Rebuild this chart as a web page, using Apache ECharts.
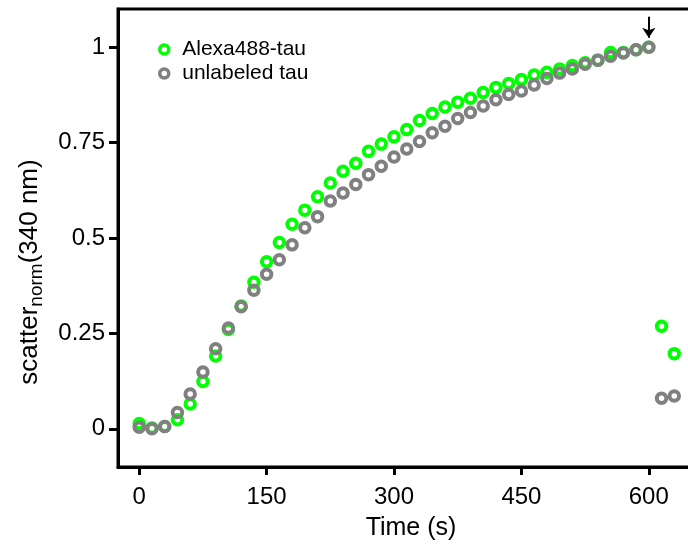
<!DOCTYPE html>
<html>
<head>
<meta charset="utf-8">
<script src="https://cdn.jsdelivr.net/npm/echarts@6/dist/echarts.min.js"></script>
<style>html,body{margin:0;padding:0;background:#fff;overflow:hidden;width:688px;height:546px;}#c{width:704px;height:546px;}</style>
</head>
<body>
<div id="c"></div>
<script>
var times = [0,15,30,45,60,75,90,105,120,135,150,165,180,195,210,225,240,255,270,285,300,315,330,345,360,375,390,405,420,435,450,465,480,495,510,525,540,555,570,585,600,615,630];
var alexa = [0.014,0.002,0.006,0.024,0.065,0.124,0.191,0.260,0.322,0.384,0.438,0.488,0.536,0.573,0.608,0.644,0.675,0.696,0.727,0.746,0.765,0.784,0.808,0.826,0.843,0.856,0.866,0.881,0.894,0.905,0.915,0.927,0.934,0.943,0.952,0.959,0.966,0.986,0.986,0.993,1.0,0.269,0.197];
var unlabeled = [0.004,0.0,0.006,0.043,0.091,0.149,0.210,0.264,0.320,0.363,0.405,0.443,0.482,0.527,0.556,0.597,0.618,0.640,0.666,0.688,0.712,0.733,0.753,0.776,0.793,0.813,0.829,0.846,0.862,0.876,0.885,0.901,0.918,0.932,0.943,0.955,0.966,0.976,0.985,0.993,1.0,0.080,0.086];
var xTicks = [0,150,300,450,600];
var yTicks = [0,0.25,0.5,0.75,1];
var seriesNames = ['Alexa488-tau','unlabeled tau'];
var arrowAt = [[600,1.08],[600,1.025]];

function pairs(xs, ys){ return xs.map(function(x,i){ return [x, ys[i]]; }); }

var FONT = 'Liberation Sans, Arial, sans-serif';
var chart = echarts.init(document.getElementById('c'));
chart.setOption({
  animation: false,
  backgroundColor: '#fff',
  grid: {left:118, top:9, right:0, bottom:77, show:true, borderColor:'#000', borderWidth:3},
  legend: {
    left: 153, top: 34, orient: 'vertical',
    itemWidth: 26, itemHeight: 9, itemGap: 3,
    itemStyle: {borderWidth: 3.5},
    textStyle: {fontFamily: FONT, fontSize: 21, color: '#000'},
    data: seriesNames
  },
  xAxis: {
    type: 'value', min: -25, max: 665,
    splitLine: {show:false},
    axisLine: {show:true, onZero:false, lineStyle:{color:'#000', width:3}},
    axisTick: {show:true, length:8, lineStyle:{color:'#000', width:3}, customValues: xTicks},
    axisLabel: {customValues: xTicks, color:'#000', fontFamily: FONT, fontSize: 24, margin: 18},
    name: 'Time (s)', nameLocation: 'middle', nameGap: 49,
    nameTextStyle: {color:'#000', fontFamily: FONT, fontSize: 25}
  },
  yAxis: {
    type: 'value', min: -0.1, max: 1.1,
    splitLine: {show:false},
    axisLine: {show:true, onZero:false, lineStyle:{color:'#000', width:3}},
    axisTick: {show:true, length:9, lineStyle:{color:'#000', width:3}, customValues: yTicks},
    axisLabel: {customValues: yTicks, color:'#000', fontFamily: FONT, fontSize: 24, margin: 13}
  },
  graphic: [{
    type: 'text', x: 30, y: 272, rotation: Math.PI/2,
    style: {
      text: '{a|scatter}{b|norm}{a|(340 nm)}',
      align: 'center', verticalAlign: 'middle',
      rich: {
        a: {fontFamily: FONT, fontSize: 26, fill: '#000', lineHeight: 32, verticalAlign: 'middle'},
        b: {fontFamily: FONT, fontSize: 19, fill: '#000', lineHeight: 32, verticalAlign: 'bottom', padding:[9,0,0,0]}
      }
    }
  }],
  series: [
    {
      name: seriesNames[0], type: 'scatter', data: pairs(times, alexa),
      symbol: 'circle', symbolSize: 9.5,
      itemStyle: {color: 'transparent', borderColor: '#00ff00', borderWidth: 4, opacity: 1},
      z: 2
    },
    {
      name: seriesNames[1], type: 'scatter', data: pairs(times, unlabeled),
      symbol: 'circle', symbolSize: 9.5,
      itemStyle: {color: 'transparent', borderColor: '#808080', borderWidth: 4, opacity: 1},
      z: 3,
      markLine: {
        silent: true, symbol: ['none','arrow'], symbolSize: 10,
        lineStyle: {color:'#000', width:2, type:'solid'},
        label: {show:false},
        data: [[{coord: arrowAt[0]}, {coord: arrowAt[1]}]]
      }
    }
  ]
});
</script>
</body>
</html>
